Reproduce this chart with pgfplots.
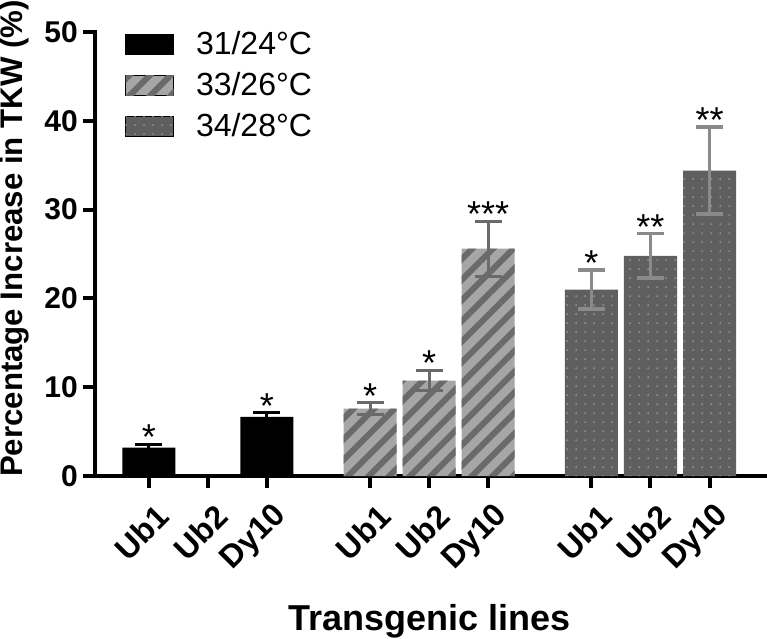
\documentclass[border=0pt]{standalone}
\usepackage{pgfplots}
\pgfplotsset{compat=1.18}
\usepackage{pgfplotstable}
\usepackage{fontspec}
\setmainfont{Liberation Sans}
\usetikzlibrary{patterns.meta}
\definecolor{stripefill}{HTML}{A6A6A6}
\definecolor{stripeline}{HTML}{6A6A6A}
\definecolor{dotfill}{HTML}{5F5F5F}
\definecolor{dotdot}{HTML}{909090}
\definecolor{errthree}{HTML}{8A8A8A}

\pgfplotstableread{
x y e s
0 3.2 0.4 *
2 6.66 0.5 *
}\gone
\pgfplotstableread{
x y e s
3.75 7.6 0.65 *
4.75 10.75 1.15 *
5.75 25.6 3.1 ***
}\gtwo
\pgfplotstableread{
x y e s
7.5 21.0 2.2 *
8.5 24.8 2.5 **
9.5 34.4 4.9 **
}\gthree

\begin{document}
\begin{tikzpicture}
\begin{axis}[
  scale only axis,
  width=335pt, height=222pt,
  xmin=-0.915, xmax=10.44,
  ymin=0, ymax=50,
  axis lines*=left,
  axis line style={line width=2pt, line cap=rect},
  major tick style={line width=2pt, black},
  tick align=outside,
  major tick length=6pt,
  ytick={0,10,20,30,40,50},
  xtick={0,1,2,3.75,4.75,5.75,7.5,8.5,9.5},
  xticklabels={Ub1,Ub2,Dy10,Ub1,Ub2,Dy10,Ub1,Ub2,Dy10},
  /pgf/number format/assume math mode=true,
  yticklabel style={font=\fontsize{15}{17}\selectfont\bfseries, xshift=1pt},
  xticklabel style={font=\fontsize{16}{18}\selectfont\bfseries, rotate=45, anchor=east, xshift=0.5pt, yshift=-13.3pt},
  xlabel={Transgenic lines},
  xlabel style={font=\fontsize{18}{20}\selectfont\bfseries, at={(axis description cs:0.5,0)}, anchor=north, inner sep=0pt, yshift=-64pt},
  ylabel={Percentage Increase in TKW (\%)},
  ylabel style={font=\fontsize{15.6}{18}\selectfont\bfseries, at={(axis description cs:-0.142,0.535)}, anchor=north, inner sep=0pt},
  legend cell align=left,
  legend style={draw=none, fill=none, at={(axis description cs:0,1)}, anchor=north west, xshift=12pt, yshift=4.5pt,
    font=\fontsize{16}{18}\selectfont, row sep=3.5pt,
    /tikz/every odd column/.append style={column sep=9pt}},
  legend image code/.code={\draw[#1] (0pt,-5pt) rectangle (24pt,5pt);},
]
\addplot[ybar, bar width=26.5pt, bar shift=0pt, fill=black, draw=none,
  error bars/.cd, y dir=both, y explicit,
  error bar style={black, line width=1.6pt},
  error mark options={black, mark size=6.75pt, line width=1.6pt, rotate=90}]
  table[x=x, y=y, y error=e]{\gone};
\addlegendentry{31/24°C}
\addplot[ybar, bar width=26.5pt, bar shift=0pt, fill=stripefill, draw=none,
  postaction={pattern={Lines[angle=45, distance=7.3pt, line width=3pt]}, pattern color=stripeline},
  error bars/.cd, y dir=both, y explicit,
  error bar style={stripeline, line width=1.6pt},
  error mark options={stripeline, mark size=6.75pt, line width=1.6pt, rotate=90}]
  table[x=x, y=y, y error=e]{\gtwo};
\addlegendentry{33/26°C}
\addplot[ybar, bar width=26.5pt, bar shift=0pt, fill=dotfill, draw=none,
  postaction={pattern={Dots[distance=4.5pt, radius=0.55pt]}, pattern color=dotdot},
  error bars/.cd, y dir=both, y explicit,
  error bar style={errthree, line width=1.6pt},
  error mark options={errthree, mark size=6.75pt, line width=1.6pt, rotate=90}]
  table[x=x, y=y, y error=e]{\gthree};
\addlegendentry{34/28°C}
\pgfplotsset{every node near coord/.style={anchor=south, inner sep=0pt, yshift=-3pt, black, font=\fontsize{18}{20}\selectfont}}
\addplot[draw=none, mark=none, nodes near coords, point meta=explicit symbolic, forget plot]
  table[x=x, y expr=\thisrow{y}+\thisrow{e}, meta=s]{\gone};
\addplot[draw=none, mark=none, nodes near coords, point meta=explicit symbolic, forget plot]
  table[x=x, y expr=\thisrow{y}+\thisrow{e}, meta=s]{\gtwo};
\addplot[draw=none, mark=none, nodes near coords, point meta=explicit symbolic, forget plot]
  table[x=x, y expr=\thisrow{y}+\thisrow{e}, meta=s]{\gthree};
\end{axis}
\end{tikzpicture}
\end{document}
